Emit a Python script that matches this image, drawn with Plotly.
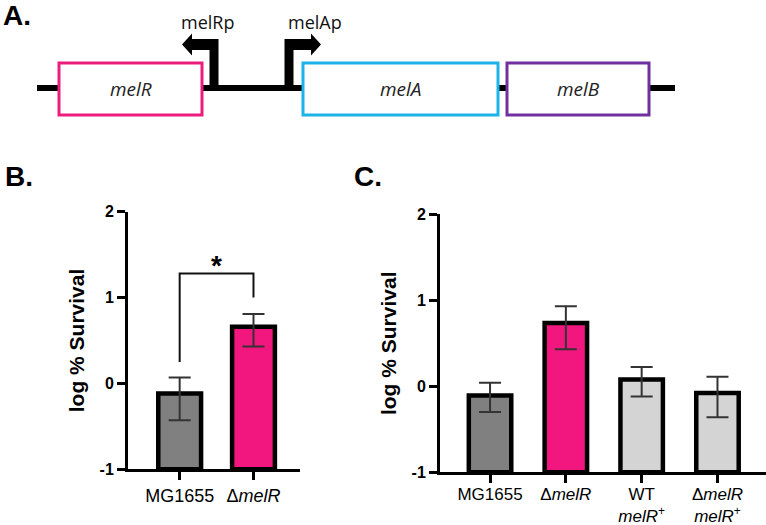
import plotly.graph_objects as go

# ---------------- data ----------------
# Panel A: gene map (positions along the schematic, arbitrary units)
genes = ["melR", "melA", "melB"]
gene_start = [59, 303, 507]
gene_end = [202, 498, 649]
gene_colors = ["#EC1C7C", "#1CB4E8", "#7030A0"]
backbone = [37, 675]
promoters = ["melRp", "melAp"]
promoter_pos = [214, 289]
promoter_dir = [-1, 1]

# Panel B
b_cats = ["MG1655", "Δ<i>melR</i>"]
b_vals = [-0.116, 0.66]
b_upper = [0.07, 0.81]
b_lower = [-0.43, 0.43]
b_colors = ["#808080", "#F2177F"]

# Panel C
c_cats = ["MG1655", "Δ<i>melR</i>", "WT<br><i>melR</i><sup>+</sup>", "Δ<i>melR</i><br><i>melR</i><sup>+</sup>"]
c_vals = [-0.108, 0.737, 0.078, -0.077]
c_upper = [0.04, 0.93, 0.225, 0.11]
c_lower = [-0.30, 0.43, -0.12, -0.36]
c_colors = ["#808080", "#F2177F", "#D4D4D4", "#D4D4D4"]

y_ticks = [-1, 0, 1, 2]
y_ticktext = ["-1", "0", "1", "2"]
BASE = -1

W, H = 766, 525
FONT = "Liberation Sans"

fig = go.Figure()


def add_bars(cats, vals, up, lo, colors, xa, ya, width):
    fig.add_trace(go.Bar(
        x=cats, y=[v - BASE for v in vals], base=BASE,
        marker=dict(color=colors, line=dict(color="black", width=4.5)),
        width=width,
        error_y=dict(type="data", symmetric=False,
                     array=[u - v for u, v in zip(up, vals)],
                     arrayminus=[v - l for v, l in zip(vals, lo)],
                     color="#333333", thickness=2, width=11),
        xaxis=xa, yaxis=ya, showlegend=False, hoverinfo="skip"))


add_bars(b_cats, b_vals, b_upper, b_lower, b_colors, "x", "y", 0.58)
add_bars(c_cats, c_vals, c_upper, c_lower, c_colors, "x2", "y2", 0.56)

# significance bracket in B
fig.add_trace(go.Scatter(
    x=[b_cats[0], b_cats[0], b_cats[1], b_cats[1]],
    y=[0.25, 1.28, 1.28, 1.0], mode="lines",
    line=dict(color="#111111", width=2), xaxis="x", yaxis="y",
    showlegend=False, hoverinfo="skip"))

axis_common = dict(showline=True, linecolor="black", linewidth=3,
                   ticks="outside", ticklen=8, tickwidth=3, tickcolor="black",
                   showgrid=False, zeroline=False, automargin=False)
ytick_font = dict(family=FONT, size=16, color="black", weight="bold")
xtick_font = dict(family=FONT, size=18, color="black")
xtick_font_c = dict(family=FONT, size=17, color="black")
ytitle = dict(text="log % Survival", font=dict(family=FONT, size=21, color="black", weight="bold"), standoff=10)

shapes = []
annotations = []

# Panel A shapes (on hidden axes x3/y3)
shapes.append(dict(type="line", xref="x3", yref="y3", x0=backbone[0], x1=backbone[1], y0=88, y1=88,
                   line=dict(color="black", width=6), layer="above"))
for p, d in zip(promoter_pos, promoter_dir):
    t = 4.5
    pts = [(p + d * -t, 88), (p + d * -t, 39), (p + d * 22, 39), (p + d * 22, 33.5), (p + d * 32, 44.5),
           (p + d * 22, 55.5), (p + d * 22, 50), (p + d * t, 50), (p + d * t, 88)]
    path = "M " + " L ".join(f"{x},{y}" for x, y in pts) + " Z"
    shapes.append(dict(type="path", xref="x3", yref="y3", path=path, fillcolor="black",
                       line=dict(width=0), layer="above"))
for g, s, e, c in zip(genes, gene_start, gene_end, gene_colors):
    shapes.append(dict(type="rect", xref="x3", yref="y3", x0=s, x1=e, y0=63, y1=115,
                       fillcolor="white", line=dict(color=c, width=3), layer="above"))
    annotations.append(dict(xref="x3", yref="y3", x=(s + e) / 2, y=89, text=f"<i>{g}</i>", showarrow=False,
                            font=dict(family="Open Sans", size=19, color="#222222")))
for name, p, d in zip(promoters, promoter_pos, promoter_dir):
    annotations.append(dict(xref="x3", yref="y3", x=p + (26 if d > 0 else -7), y=22, text=name,
                            showarrow=False, font=dict(family="Open Sans", size=18, color="#111111")))

# star
annotations.append(dict(xref="x", yref="y", x=0.5, y=1.37, text="<b>*</b>", showarrow=False,
                        font=dict(family=FONT, size=28, color="black")))

# panel letters
for lab, px, py in [("A.", 17, 16), ("B.", 19, 176), ("C.", 368, 176)]:
    annotations.append(dict(xref="paper", yref="paper", x=px / W, y=1 - py / H, text=f"<b>{lab}</b>",
                            showarrow=False, xanchor="center", yanchor="middle",
                            font=dict(family=FONT, size=28, color="black")))

fig.update_layout(
    width=W, height=H, margin=dict(l=0, r=0, t=0, b=0, autoexpand=False),
    paper_bgcolor="white", plot_bgcolor="white",
    bargap=0.4,
    xaxis=dict(domain=[128 / W, 300 / W], range=[-0.70, 1.63], tickfont=xtick_font, **axis_common),
    yaxis=dict(domain=[1 - 469.3 / H, 1 - 211.7 / H], range=[-1, 2], tickvals=y_ticks, ticktext=y_ticktext,
               tickfont=ytick_font, title=ytitle, **axis_common),
    xaxis2=dict(domain=[440 / W, 1.0], range=[-0.66, 3.64], tickfont=xtick_font_c, anchor="y2",
                ticklabelstandoff=-4, **axis_common),
    yaxis2=dict(domain=[1 - 472.3 / H, 1 - 214.3 / H], range=[-1, 2], tickvals=y_ticks, ticktext=y_ticktext,
                anchor="x2", tickfont=ytick_font, title=ytitle, **axis_common),
    xaxis3=dict(domain=[0, 1], range=[0, W], visible=False, anchor="y3", fixedrange=True),
    yaxis3=dict(domain=[1 - 131.25 / H, 1], range=[131.25, 0], visible=False, anchor="x3", fixedrange=True),
    shapes=shapes, annotations=annotations,
)

fig.write_html("out.html", config={"displayModeBar": False},
               post_script="document.body.style.margin='0';document.body.style.padding='0';"
                           "document.documentElement.style.overflow='hidden';")
